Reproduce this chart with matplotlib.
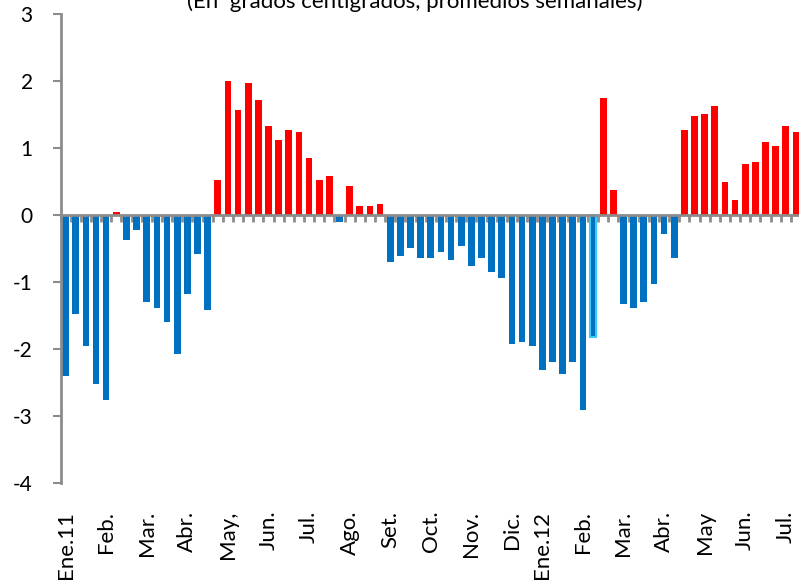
import numpy as np
import matplotlib
matplotlib.use('Agg')
import matplotlib.pyplot as plt

# Weekly temperature anomaly (deg C), Jan 2011 - Jul 2012
values = [-2.40, -1.48, -1.96, -2.52, -2.76, 0.05, -0.37, -0.22, -1.30, -1.39,
          -1.60, -2.08, -1.18, -0.58, -1.42, 0.52, 2.00, 1.57, 1.97, 1.72,
          1.33, 1.12, 1.27, 1.24, 0.85, 0.52, 0.58, -0.10, 0.43, 0.13,
          0.13, 0.16, -0.70, -0.61, -0.49, -0.64, -0.64, -0.55, -0.67, -0.46,
          -0.76, -0.64, -0.85, -0.94, -1.93, -1.90, -1.96, -2.31, -2.19, -2.37,
          -2.19, -2.91, -1.82, 1.75, 0.37, -1.33, -1.39, -1.30, -1.03, -0.28,
          -0.64, 1.27, 1.48, 1.51, 1.63, 0.49, 0.22, 0.76, 0.79, 1.09,
          1.03, 1.33, 1.24]
highlight = 52  # last observation highlighted

month_labels = ['Ene.11', 'Feb.', 'Mar.', 'Abr.', 'May,', 'Jun.', 'Jul.', 'Ago.',
                'Set.', 'Oct.', 'Nov.', 'Dic.', 'Ene.12', 'Feb.', 'Mar.', 'Abr.',
                'May', 'Jun.', 'Jul.']
month_pos = [0, 4, 8, 12, 16, 20, 24, 28, 32, 36, 40, 44, 47, 51, 55, 59, 63, 67, 71]

plt.rcParams['font.family'] = ['Lato', 'DejaVu Sans']
plt.rcParams['axes.unicode_minus'] = False

BLUE = '#0070C0'
RED = '#FF0000'
GREY = '#8C8C8C'

x = np.arange(len(values))
vals = np.array(values)
colors = [RED if v > 0 else BLUE for v in vals]
edges = ['none'] * len(vals)
edges[highlight] = '#33CCFF'

fig = plt.figure(figsize=(7.99, 5.83), dpi=100)
ax = fig.add_axes([60.5 / 799, 1 - 483 / 583, 740.5 / 799, 469 / 583])

ax.bar(x, vals, width=0.66, color=colors, edgecolor=edges, linewidth=1.5, zorder=2)

ax.set_xlim(-0.5, len(vals) - 0.5)
ax.set_ylim(-4, 3)
ax.set_yticks(range(-4, 4))
ax.tick_params(axis='y', direction='out', length=6, width=1.5, color=GREY,
               labelsize=15, pad=14)

for s in ['top', 'right', 'bottom']:
    ax.spines[s].set_visible(False)
ax.spines['left'].set_color(GREY)
ax.spines['left'].set_linewidth(2)

# month labels below the plot area
ax.set_xticks(month_pos, month_labels, rotation=90)
ax.tick_params(axis='x', length=0, labelsize=16, pad=20)

# category axis crossing at zero, with ticks between weeks
ax.axhline(0, color=GREY, lw=2, zorder=3)
sec = ax.secondary_xaxis(4 / 7)
sec.set_alignment('bottom')
sec.set_xticks(np.arange(len(vals) + 1) - 0.5)
sec.tick_params(axis='x', direction='out', length=5, width=2, color=GREY,
                labelbottom=False, labeltop=False)
sec.spines['bottom'].set_visible(False)
sec.spines['top'].set_visible(False)

fig.text(415 / 799, 1 - 8 / 583, '(En  grados centígrados, promedios semanales)',
         ha='center', va='baseline', fontsize=16)

fig.savefig('out.png', dpi=100)
